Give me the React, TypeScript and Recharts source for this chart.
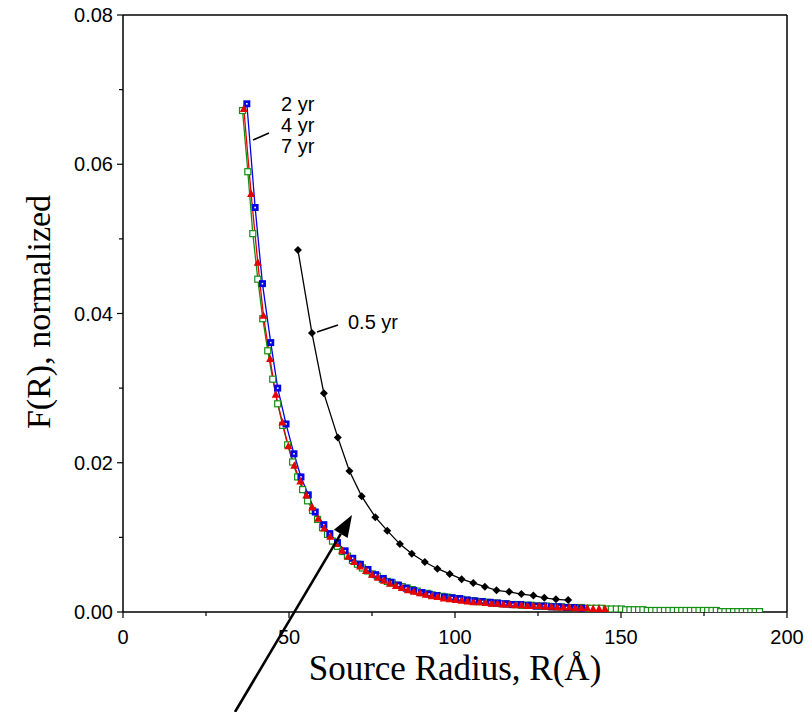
import { Line, LineChart, ReferenceLine, XAxis, YAxis } from 'recharts';

// 0.5 yr
const BLACK_R = [52.7, 56.9, 60.5, 64.7, 68.2, 71.9, 76.0, 79.6, 83.4, 87.0, 90.9, 94.7, 98.4, 102.0, 105.5, 109.0, 112.5, 116.3, 120.0, 123.6, 126.9, 130.4, 134.1];
const BLACK_F = [0.0485, 0.0374, 0.0293, 0.0234, 0.0189, 0.0155, 0.0127, 0.0109, 0.0091, 0.0078, 0.0067, 0.0058, 0.0051, 0.0044, 0.0039, 0.0034, 0.0029, 0.0027, 0.0024, 0.0022, 0.0019, 0.0017, 0.0016];

// 2 yr
const BLUE_R = [37.3, 39.8, 42.0, 44.5, 46.6, 49.1, 51.5, 53.6, 55.8, 57.9, 60.5, 62.3, 64.6, 66.9, 69.2, 71.5, 73.8, 76.1, 78.4, 80.7, 83.0, 85.3, 87.6, 89.9, 92.2, 94.5, 96.8, 99.1, 101.4, 103.7, 106.0, 108.3, 110.6, 112.9, 115.2, 117.5, 119.8, 122.1, 124.4, 126.7, 129.0, 131.3, 133.6, 135.9, 138.2];
const BLUE_F = [0.0681, 0.0542, 0.044, 0.0361, 0.03, 0.0252, 0.0212, 0.0181, 0.0157, 0.0134, 0.0117, 0.0105, 0.0093, 0.0082, 0.0072, 0.0064, 0.0057, 0.005, 0.0045, 0.004, 0.0036, 0.0032, 0.0029, 0.0026, 0.0024, 0.0022, 0.002, 0.0019, 0.0018, 0.0016, 0.0015, 0.0014, 0.0013, 0.0012, 0.0011, 0.001, 0.001, 0.0009, 0.0008, 0.0008, 0.0007, 0.0007, 0.0006, 0.0006, 0.0005];

// 4 yr
const RED_R = [36.4, 38.6, 40.6, 42.3, 44.3, 46.0, 48.0, 49.8, 51.6, 53.4, 55.2, 57.0, 58.8, 60.6, 62.4, 64.2, 66.0, 67.8, 69.6, 71.4, 73.2, 75.0, 76.8, 78.6, 80.4, 82.2, 84.0, 85.8, 87.6, 89.4, 91.2, 93.0, 94.8, 96.6, 98.4, 100.2, 102.0, 103.8, 105.6, 107.4, 109.2, 111.0, 112.8, 114.6, 116.4, 118.2, 120.0, 121.8, 123.6, 125.4, 127.2, 129.0, 130.8, 132.6, 134.4, 136.2, 138.0, 139.8, 141.6, 143.4, 145.2];
const RED_F = [0.0674, 0.056, 0.0468, 0.0397, 0.0339, 0.0291, 0.0254, 0.0222, 0.0196, 0.0175, 0.0156, 0.014, 0.0125, 0.0112, 0.0101, 0.0091, 0.0082, 0.0074, 0.0067, 0.0061, 0.0055, 0.005, 0.0046, 0.0042, 0.0038, 0.0035, 0.0032, 0.0029, 0.0027, 0.0025, 0.0023, 0.0021, 0.002, 0.0018, 0.0017, 0.0016, 0.0015, 0.0014, 0.0013, 0.0013, 0.0012, 0.0011, 0.0011, 0.001, 0.001, 0.0009, 0.0009, 0.0008, 0.0008, 0.0008, 0.0007, 0.0007, 0.0006, 0.0006, 0.0006, 0.0005, 0.0005, 0.0005, 0.0004, 0.0004, 0.0004];

// 7 yr
const GREEN_R = [36.0, 37.6, 39.1, 40.6, 42.1, 43.6, 45.1, 46.6, 48.1, 49.6, 51.1, 52.6, 54.1, 55.6, 57.1, 58.6, 60.1, 61.6, 63.1, 64.6, 66.1, 67.6, 69.1, 70.6, 72.1, 73.6, 75.1, 76.6, 78.1, 79.6, 81.1, 82.6, 84.1, 85.6, 87.1, 88.6, 90.1, 91.6, 93.1, 94.6, 96.1, 97.6, 99.1, 100.6, 102.1, 103.6, 105.1, 106.6, 108.1, 109.6, 111.1, 112.6, 114.1, 115.6, 117.1, 118.6, 120.1, 121.6, 123.1, 124.6, 126.1, 127.6, 129.1, 130.6, 132.1, 133.6, 135.1, 136.6, 138.1, 139.6, 141.1, 142.6, 144.1, 145.6, 147.1, 148.6, 150.1, 151.4, 152.7, 154.0, 155.3, 156.6, 157.9, 159.2, 160.5, 161.8, 163.1, 164.4, 165.7, 167.0, 168.3, 169.6, 170.9, 172.2, 173.5, 174.8, 176.1, 177.4, 178.7, 180.0, 181.3, 182.6, 183.9, 185.2, 186.5, 187.8, 189.1, 190.4, 191.7];
const GREEN_F = [0.0672, 0.059, 0.0507, 0.0446, 0.0393, 0.035, 0.0312, 0.0279, 0.025, 0.0224, 0.0201, 0.0181, 0.0164, 0.0149, 0.0136, 0.0124, 0.0113, 0.0104, 0.0095, 0.0088, 0.0081, 0.0075, 0.0069, 0.0064, 0.0059, 0.0055, 0.0051, 0.0048, 0.0044, 0.0041, 0.0039, 0.0036, 0.0034, 0.0032, 0.003, 0.0028, 0.0026, 0.0025, 0.0023, 0.0022, 0.0021, 0.002, 0.0019, 0.0018, 0.0017, 0.0016, 0.0015, 0.0014, 0.0014, 0.0013, 0.0012, 0.0012, 0.0011, 0.0011, 0.001, 0.001, 0.0009, 0.0009, 0.0009, 0.0008, 0.0008, 0.0008, 0.0007, 0.0007, 0.0007, 0.0006, 0.0006, 0.0006, 0.0006, 0.0005, 0.0005, 0.0005, 0.0005, 0.0004, 0.0004, 0.0004, 0.0004, 0.0003, 0.0003, 0.0003, 0.0003, 0.0003, 0.0002, 0.0002, 0.0002, 0.0002, 0.0002, 0.0002, 0.0002, 0.0002, 0.0002, 0.0002, 0.0002, 0.0002, 0.0002, 0.0002, 0.0002, 0.0002, 0.0002, 0.00005, 0.00005, 0.00005, 0.00005, 0.00005, 0.00005, 0.00005, 0.00005, 0.00005, 0.00005];

const X_TICKS = [0, 25, 50, 75, 100, 125, 150, 175, 200];
const Y_TICKS = [0, 0.01, 0.02, 0.03, 0.04, 0.05, 0.06, 0.07, 0.08];

const W = 809;
const H = 712;
const TICK_FONT = '"Liberation Sans", Arial, sans-serif';
const TITLE_FONT = '"Liberation Serif", "Times New Roman", serif';

const zip = (r: number[], f: number[]) => r.map((v, i) => ({ r: v, f: f[i] }));
const blackData = zip(BLACK_R, BLACK_F);
const blueData = zip(BLUE_R, BLUE_F);
const redData = zip(RED_R, RED_F);
const greenData = zip(GREEN_R, GREEN_F);

const XTick = (props: any) => {
  const { x, y, payload } = props;
  const major = payload.value % 50 === 0;
  return (
    <g>
      <line x1={x} x2={x} y1={y} y2={y + (major ? 6 : 4)} stroke="#000" strokeWidth={1.2} />
      {major && (
        <text x={x} y={y + 32} textAnchor="middle" fontFamily={TICK_FONT} fontSize={20} fill="#000">
          {payload.value}
        </text>
      )}
    </g>
  );
};

const YTick = (props: any) => {
  const { x, y, payload } = props;
  const major = Math.round(payload.value * 100) % 2 === 0;
  return (
    <g>
      <line x1={x} x2={x - (major ? 6 : 4)} y1={y} y2={y} stroke="#000" strokeWidth={1.2} />
      {major && (
        <text x={x - 10} y={y + 7} textAnchor="end" fontFamily={TICK_FONT} fontSize={20} fill="#000">
          {payload.value.toFixed(2)}
        </text>
      )}
    </g>
  );
};

const squareDot = (color: string) => (p: any) => (
  <g key={`sq-${p.index}`}>
    <rect x={p.cx - 3.5} y={p.cy - 3.5} width={7} height={7} fill={color} />
    <rect x={p.cx - 0.8} y={p.cy - 0.8} width={1.6} height={1.6} fill="#fff" />
  </g>
);

const openSquareDot = (color: string) => (p: any) => (
  <rect key={`os-${p.index}`} x={p.cx - 3} y={p.cy - 3} width={6} height={6} fill="#fff" stroke={color} strokeWidth={1.2} />
);

const triangleDot = (color: string) => (p: any) => (
  <polygon key={`tr-${p.index}`} points={`${p.cx},${p.cy - 4.5} ${p.cx - 4},${p.cy + 3} ${p.cx + 4},${p.cy + 3}`} fill={color} />
);

const diamondDot = (color: string) => (p: any) => (
  <polygon key={`dm-${p.index}`} points={`${p.cx},${p.cy - 4} ${p.cx + 4},${p.cy} ${p.cx},${p.cy + 4} ${p.cx - 4},${p.cy}`} fill={color} />
);

export default function App() {
  // arrow annotation from below the chart to the curves
  const ax0 = 235, ay0 = 712, ax1 = 352, ay1 = 515;
  const len = Math.hypot(ax1 - ax0, ay1 - ay0);
  const ux = (ax1 - ax0) / len, uy = (ay1 - ay0) / len;
  const hl = 22, hw = 8;
  const bx = ax1 - ux * hl, by = ay1 - uy * hl;

  return (
    <div style={{ position: 'absolute', left: 0, top: 0, width: W, height: H, background: '#fff' }}>
      <LineChart width={W} height={H} margin={{ top: 15, right: 22, left: 0, bottom: 0 }}>
        <XAxis
          type="number"
          dataKey="r"
          domain={[0, 200]}
          ticks={X_TICKS}
          interval={0}
          height={100}
          tickSize={0}
          tickMargin={0}
          tickLine={false}
          tick={<XTick />}
          axisLine={{ stroke: '#000', strokeWidth: 1.5 }}
          allowDataOverflow
        />
        <YAxis
          type="number"
          domain={[0, 0.08]}
          ticks={Y_TICKS}
          interval={0}
          width={123}
          tickSize={0}
          tickMargin={0}
          tickLine={false}
          tick={<YTick />}
          axisLine={{ stroke: '#000', strokeWidth: 1.5 }}
          allowDataOverflow
        />
        <ReferenceLine y={0.08} stroke="#000" strokeWidth={1.5} />
        <ReferenceLine x={200} stroke="#000" strokeWidth={1.5} />
        <Line data={greenData} dataKey="f" stroke="#138f13" strokeWidth={1.3} dot={openSquareDot('#138f13')} isAnimationActive={false} />
        <Line data={blueData} dataKey="f" stroke="#0000e6" strokeWidth={1.3} dot={squareDot('#0000e6')} isAnimationActive={false} />
        <Line data={redData} dataKey="f" stroke="#e60000" strokeWidth={1.3} dot={triangleDot('#e60000')} isAnimationActive={false} />
        <Line data={blackData} dataKey="f" stroke="#000" strokeWidth={1.3} dot={diamondDot('#000')} isAnimationActive={false} />
      </LineChart>
      <svg width={W} height={H} style={{ position: 'absolute', left: 0, top: 0, pointerEvents: 'none' }}>
        <g fontFamily={TICK_FONT} fontSize={20} fill="#000">
          <text x={281} y={111}>2 yr</text>
          <text x={281} y={132}>4 yr</text>
          <text x={281} y={153}>7 yr</text>
          <text x={348} y={329}>0.5 yr</text>
        </g>
        <line x1={253} y1={140} x2={269} y2={133} stroke="#000" strokeWidth={1.5} />
        <line x1={317} y1={332} x2={338} y2={325} stroke="#000" strokeWidth={1.5} />
        <line x1={ax0} y1={ay0} x2={bx} y2={by} stroke="#000" strokeWidth={2.6} />
        <polygon
          points={`${ax1},${ay1} ${bx - uy * hw},${by + ux * hw} ${bx + uy * hw},${by - ux * hw}`}
          fill="#000"
        />
        <text x={455} y={680} textAnchor="middle" fontFamily={TITLE_FONT} fontSize={35} fill="#000">
          Source Radius, R(Å)
        </text>
        <text
          x={50}
          y={312}
          textAnchor="middle"
          transform="rotate(-90 50 312)"
          fontFamily={TITLE_FONT}
          fontSize={34}
          fill="#000"
        >
          F(R), normalized
        </text>
      </svg>
    </div>
  );
}
